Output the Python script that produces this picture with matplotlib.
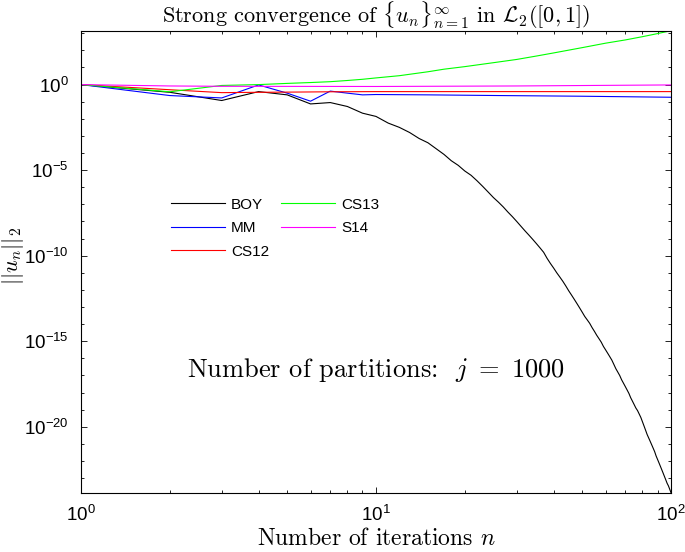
import matplotlib
matplotlib.use("Agg")
import matplotlib.pyplot as plt
import numpy as np
from matplotlib.ticker import FixedLocator, NullFormatter

# iterations where each curve was read (log10 of ||u_n||_2 stored)
n_boy = list(range(1, 101))
boy_exp = [0.0, -0.45, -0.93, -0.41, -0.6, -1.13, -1.05, -1.28, -1.67, -1.86,
           -2.25, -2.5, -2.8, -3.15, -3.4, -3.75, -4.08, -4.45, -4.72, -5.05,
           -5.3, -5.62, -5.95, -6.28, -6.6, -6.87, -7.15, -7.45, -7.72, -8.0,
           -8.28, -8.55, -8.8, -9.05, -9.3, -9.55, -9.8, -10.15, -10.45, -10.72,
           -11.0, -11.25, -11.5, -11.77, -12.05, -12.3, -12.55, -12.8, -13.05, -13.3,
           -13.55, -13.75, -13.95, -14.2, -14.42, -14.65, -14.85, -15.05, -15.3, -15.5,
           -15.7, -15.9, -16.1, -16.35, -16.6, -16.8, -17.0, -17.25, -17.45, -17.65,
           -17.85, -18.05, -18.3, -18.5, -18.7, -18.9, -19.05, -19.25, -19.45, -19.7,
           -19.95, -20.2, -20.45, -20.65, -20.85, -21.05, -21.25, -21.45, -21.7, -21.9,
           -22.1, -22.3, -22.5, -22.7, -22.9, -23.1, -23.3, -23.45, -23.65, -23.85]

n_mm = [1, 2, 3, 4, 5, 6, 7, 8, 9, 10, 15, 26, 50, 100]
mm_exp = [0.0, -0.64, -0.78, -0.02, -0.5, -0.97, -0.38, -0.5, -0.6, -0.58,
          -0.6, -0.64, -0.68, -0.74]

n_cs12 = [1, 2, 3, 4, 5, 6, 7, 10, 100]
cs12_exp = [0.0, -0.3, -0.47, -0.45, -0.44, -0.43, -0.42, -0.41, -0.41]

n_cs13 = [1, 2, 3, 4, 5, 6, 7, 8, 9, 10, 12, 15, 17, 20, 25, 30, 35, 40,
          50, 60, 70, 80, 90, 100]
cs13_exp = [0.0, -0.42, -0.05, 0.0, 0.07, 0.12, 0.17, 0.24, 0.31, 0.39, 0.52,
            0.75, 0.9, 1.05, 1.28, 1.47, 1.67, 1.85, 2.16, 2.42, 2.61, 2.8,
            2.98, 3.15]

n_s14 = [1, 2, 3, 10, 30, 100]
s14_exp = [0.0, -0.08, -0.1, -0.11, -0.08, -0.02]

series = [
    ("BOY", n_boy, boy_exp, "k"),
    ("MM", n_mm, mm_exp, "#0000ff"),
    ("CS12", n_cs12, cs12_exp, "#ff0000"),
    ("CS13", n_cs13, cs13_exp, "#00ff00"),
    ("S14", n_s14, s14_exp, "#ff00ff"),
]

plt.rcParams["mathtext.fontset"] = "cm"

fig = plt.figure(figsize=(6.85, 5.52), dpi=100)
ax = fig.add_axes([0.1182, 0.1074, 0.8614, 0.837])

for name, n, e, c in series:
    ax.plot(n, 10.0 ** np.array(e), color=c, lw=0.8, label=name)

ax.set_xscale("log")
ax.set_yscale("log")
ax.set_xlim(1, 100)
all_exp = boy_exp + mm_exp + cs12_exp + cs13_exp + s14_exp
ax.set_ylim(10.0 ** min(all_exp), 10.0 ** max(all_exp))

tick_font = dict(family="Liberation Sans", size=13.5)
xt = [1, 10, 100]
ax.xaxis.set_major_locator(FixedLocator(xt))
ax.set_xticklabels([r"$\mathregular{10^{%d}}$" % k for k in range(3)], fontdict=tick_font)
ax.xaxis.set_minor_locator(FixedLocator([m * 10.0 ** k for k in range(2) for m in range(2, 10)]))
ax.xaxis.set_minor_formatter(NullFormatter())

yt = [10.0 ** k for k in [-20, -15, -10, -5, 0]]
ax.yaxis.set_major_locator(FixedLocator(yt))
ax.set_yticklabels([r"$\mathregular{10^{%d}}$" % k for k in [-20, -15, -10, -5, 0]], fontdict=tick_font)
ax.yaxis.set_minor_locator(FixedLocator([10.0 ** k for k in range(-24, 4)]))
ax.yaxis.set_minor_formatter(NullFormatter())

ax.tick_params(which="both", direction="in", top=True, right=True, width=0.6)
ax.tick_params(which="major", length=4.5, pad=9)
ax.tick_params(which="minor", length=2.5)
for s in ax.spines.values():
    s.set_linewidth(0.8)

ax.set_title(r"Strong convergence of $\{u_n\}_{n=1}^\infty$ in $\mathcal{L}_2([0,1])$",
             family="cmr10", fontsize=16, pad=2)
ax.set_xlabel(r"Number of iterations $n$", family="cmr10", fontsize=17, labelpad=2)
ax.set_ylabel(r"$||u_n||_2$", fontsize=16)
ax.yaxis.set_label_coords(-0.094, 0.512)

ax.text(0.5, 0.266, r"Number of partitions:  $j\ =\ 1000$", transform=ax.transAxes,
        family="cmr10", fontsize=19, ha="center", va="center")

ax.legend(ncol=2, frameon=False, loc="upper left", bbox_to_anchor=(0.13, 0.668),
          prop={"family": "Liberation Sans", "size": 11}, handlelength=3.5,
          labelspacing=0.62, columnspacing=0.8, handletextpad=0.4)

fig.savefig("out.png", dpi=100)
